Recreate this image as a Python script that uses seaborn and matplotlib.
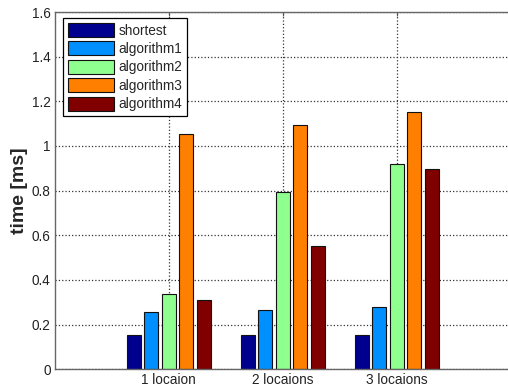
import pandas as pd
import seaborn as sns
import matplotlib.pyplot as plt

sns.set_style("white")
plt.rcParams['font.family'] = ['Liberation Sans', 'DejaVu Sans']

locations = ["1 locaion", "2 locaions", "3 locaions"]
algorithms = ["shortest", "algorithm1", "algorithm2", "algorithm3", "algorithm4"]
shortest = [0.153, 0.153, 0.153]
algorithm1 = [0.257, 0.266, 0.279]
algorithm2 = [0.336, 0.796, 0.921]
algorithm3 = [1.055, 1.092, 1.153]
algorithm4 = [0.311, 0.550, 0.897]
colors = ["#00008f", "#008fff", "#8fff8f", "#ff7f00", "#800000"]

rows = []
for name, vals in zip(algorithms, [shortest, algorithm1, algorithm2, algorithm3, algorithm4]):
    for loc, v in zip(locations, vals):
        rows.append({"location": loc, "algorithm": name, "time": v})
df = pd.DataFrame(rows)

fig = plt.figure(figsize=(5.08, 3.89), dpi=100)
# axes runs a little past the right edge, as in the original screenshot
ax = fig.add_axes([0.108, 0.051, 0.91, 0.918])
sns.barplot(data=df, x="location", y="time", hue="algorithm", hue_order=algorithms,
            palette=colors, width=0.77, gap=0.2, edgecolor="#111111", linewidth=0.8,
            saturation=1, ax=ax)

ax.set_xlim(-1, -1 + 0.91 * 508 / 114)
ax.set_ylim(0, 1.6)
ax.set_yticks([0, 0.2, 0.4, 0.6, 0.8, 1, 1.2, 1.4, 1.6])
ax.set_yticklabels(["0", "0.2", "0.4", "0.6", "0.8", "1", "1.2", "1.4", "1.6"])
ax.set_xlabel("")
ax.set_ylabel("time [ms]", fontsize=14, fontweight="bold", labelpad=3)
ax.grid(True, linestyle=":", color="#333333", linewidth=0.9)
ax.set_axisbelow(True)
ax.tick_params(direction="in", length=3, labelsize=9.8, colors="#555555",
               labelcolor="#222222", top=True, right=True, pad=3)
for s in ax.spines.values():
    s.set_color("#666666")
    s.set_linewidth(1.0)

leg = ax.legend(loc="upper left", bbox_to_anchor=(0.012, 0.99), fontsize=9.8,
                frameon=True, fancybox=False, edgecolor="black", framealpha=1,
                handlelength=3.4, handleheight=1.2, borderpad=0.35,
                labelspacing=0.28, handletextpad=0.3, borderaxespad=0.2)
leg.get_frame().set_linewidth(0.9)

plt.savefig("out.png", dpi=100)
